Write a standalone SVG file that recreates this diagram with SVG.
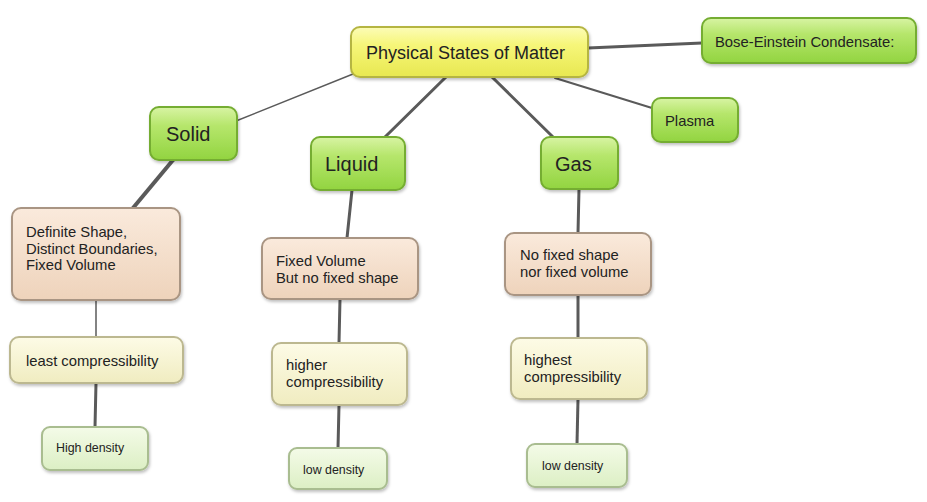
<svg xmlns="http://www.w3.org/2000/svg" width="927" height="502" viewBox="0 0 927 502">
<defs>
<linearGradient id="gGreen" x1="0" y1="0" x2="0" y2="1"><stop offset="0" stop-color="#d8f4a4"/><stop offset="0.35" stop-color="#b6e66c"/><stop offset="1" stop-color="#92d440"/></linearGradient>
<linearGradient id="gYellow" x1="0" y1="0" x2="0" y2="1"><stop offset="0" stop-color="#fcfcb8"/><stop offset="0.35" stop-color="#f6f67a"/><stop offset="1" stop-color="#e8e850"/></linearGradient>
<linearGradient id="gPeach" x1="0" y1="0" x2="0" y2="1"><stop offset="0" stop-color="#faeadc"/><stop offset="1" stop-color="#eed3bb"/></linearGradient>
<linearGradient id="gCream" x1="0" y1="0" x2="0" y2="1"><stop offset="0" stop-color="#fdfbe6"/><stop offset="1" stop-color="#f0ecc0"/></linearGradient>
<linearGradient id="gPale" x1="0" y1="0" x2="0" y2="1"><stop offset="0" stop-color="#f4fbe8"/><stop offset="1" stop-color="#dcefc4"/></linearGradient>
<filter id="sh" x="-10%" y="-10%" width="130%" height="140%"><feDropShadow dx="1" dy="2" stdDeviation="1.5" flood-color="#000" flood-opacity="0.25"/></filter>
</defs>
<style>
.n{filter:url(#sh);stroke-width:2}
.green{fill:url(#gGreen);stroke:#74ad30}
.yellow{fill:url(#gYellow);stroke:#b5b543}
.peach{fill:url(#gPeach);stroke:#a99583}
.cream{fill:url(#gCream);stroke:#bcb890}
.pale{fill:url(#gPale);stroke:#a9bd90}
text{font-family:"Liberation Sans",Arial,sans-serif;fill:#222}
.t16{font-size:18px}.t17{font-size:20px}.t13{font-size:14.8px}.t11{font-size:12.4px}
.c{stroke:#5a5a5a;fill:none;stroke-linecap:round}
</style>
<rect width="927" height="502" fill="#fff"/>
<g id="connectors">
<line class="c" x1="358" y1="72" x2="236" y2="121" stroke-width="1.5"/>
<line class="c" x1="446" y1="77" x2="385" y2="137" stroke-width="3"/>
<line class="c" x1="492" y1="77" x2="553" y2="137" stroke-width="3"/>
<line class="c" x1="555" y1="78" x2="652" y2="108" stroke-width="2"/>
<line class="c" x1="588" y1="48" x2="702" y2="43" stroke-width="3"/>
<line class="c" x1="173" y1="160" x2="133" y2="208" stroke-width="4"/>
<line class="c" x1="96" y1="300" x2="96" y2="337" stroke-width="1.5"/>
<line class="c" x1="96" y1="383" x2="95" y2="427" stroke-width="3"/>
<line class="c" x1="352" y1="190" x2="347" y2="238" stroke-width="3"/>
<line class="c" x1="340" y1="299" x2="339" y2="343" stroke-width="3"/>
<line class="c" x1="339" y1="405" x2="338" y2="448" stroke-width="3"/>
<line class="c" x1="579" y1="189" x2="578" y2="233" stroke-width="3"/>
<line class="c" x1="578" y1="295" x2="578" y2="338" stroke-width="3"/>
<line class="c" x1="578" y1="399" x2="577" y2="444" stroke-width="3"/>
</g>
<g id="main"><rect class="n yellow" x="351" y="27" width="237" height="50" rx="9"/><text class="t16" x="366" y="59">Physical States of Matter</text></g>
<g id="bec"><rect class="n green" x="702" y="18" width="214" height="45" rx="9"/><text class="t13" x="715" y="47">Bose-Einstein Condensate:</text></g>
<g id="plasma"><rect class="n green" x="652" y="98" width="86" height="44" rx="9"/><text class="t13" x="665" y="126">Plasma</text></g>
<g id="solid"><rect class="n green" x="150" y="107" width="87" height="53" rx="9"/><text class="t17" x="166" y="141">Solid</text></g>
<g id="liquid"><rect class="n green" x="311" y="137" width="94" height="53" rx="9"/><text class="t17" x="325" y="171">Liquid</text></g>
<g id="gas"><rect class="n green" x="541" y="137" width="77" height="52" rx="9"/><text class="t17" x="555" y="171">Gas</text></g>
<g id="solid-props"><rect class="n peach" x="12" y="208" width="168" height="92" rx="9"/><text class="t13"><tspan x="26" y="237">Definite Shape,</tspan><tspan x="26" y="254">Distinct Boundaries,</tspan><tspan x="26" y="270">Fixed Volume</tspan></text></g>
<g id="solid-comp"><rect class="n cream" x="10" y="337" width="173" height="46" rx="9"/><text class="t13" x="26" y="366">least compressibility</text></g>
<g id="solid-dens"><rect class="n pale" x="42" y="427" width="106" height="43" rx="8"/><text class="t11" x="56" y="452">High density</text></g>
<g id="liquid-props"><rect class="n peach" x="262" y="238" width="156" height="61" rx="9"/><text class="t13"><tspan x="276" y="266">Fixed Volume</tspan><tspan x="276" y="283">But no fixed shape</tspan></text></g>
<g id="liquid-comp"><rect class="n cream" x="272" y="343" width="135" height="62" rx="9"/><text class="t13"><tspan x="286" y="370">higher</tspan><tspan x="286" y="387">compressibility</tspan></text></g>
<g id="liquid-dens"><rect class="n pale" x="289" y="448" width="98" height="41" rx="8"/><text class="t11" x="303" y="474">low density</text></g>
<g id="gas-props"><rect class="n peach" x="505" y="233" width="146" height="62" rx="9"/><text class="t13"><tspan x="520" y="260">No fixed shape</tspan><tspan x="520" y="277">nor fixed volume</tspan></text></g>
<g id="gas-comp"><rect class="n cream" x="511" y="338" width="136" height="61" rx="9"/><text class="t13"><tspan x="524" y="365">highest</tspan><tspan x="524" y="382">compressibility</tspan></text></g>
<g id="gas-dens"><rect class="n pale" x="527" y="444" width="100" height="43" rx="8"/><text class="t11" x="542" y="470">low density</text></g>
</svg>
